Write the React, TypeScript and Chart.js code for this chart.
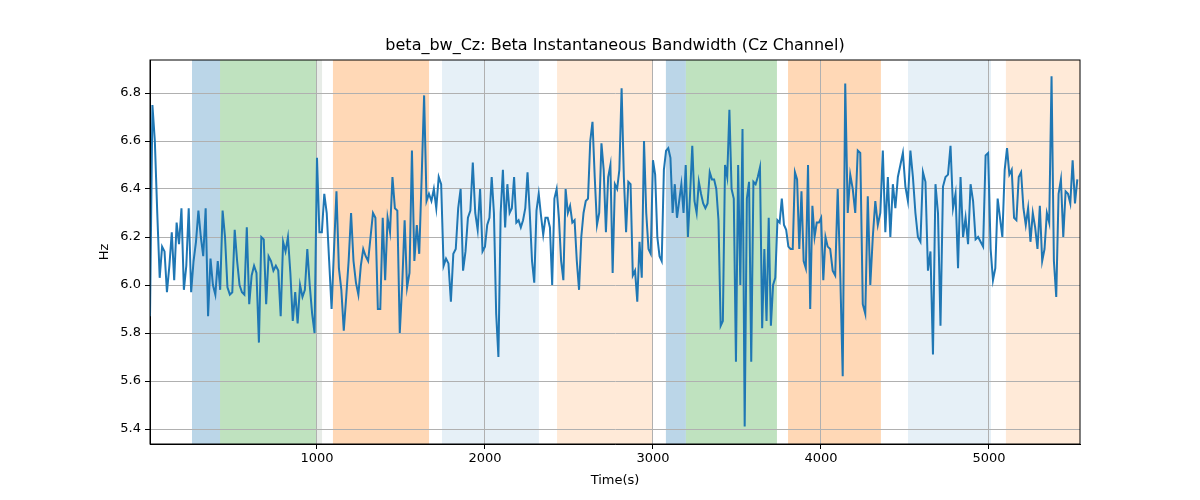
import React, { useEffect, useRef } from "react";
import { Chart, registerables } from "chart.js";
Chart.register(...registerables);

const segStarts = [6, 1000, 2000, 3000, 4040, 5010];
const segEnds = [1000, 2000, 3000, 4040, 5010, 5540];
const seg0 = [5.87, 6.75, 6.6, 6.3, 6.03, 6.16, 6.14, 5.97, 6.08, 6.22, 6.02, 6.26, 6.17, 6.32, 5.98, 6.08, 6.32, 5.97, 6.1, 6.18, 6.31, 6.2, 6.12, 6.32, 5.87, 6.11, 6.0, 5.96, 6.1, 5.98, 6.31, 6.2, 5.99, 5.96, 5.97, 6.23, 6.1, 6.0, 5.97, 5.96, 6.24, 5.92, 6.04, 6.08, 6.05, 5.76, 6.2, 6.19, 5.92, 6.12, 6.1, 6.06, 6.08, 6.06, 5.87, 6.18, 6.14, 6.2, 6.05, 5.85, 5.97, 5.84, 6.0, 5.95, 5.98, 6.15, 6.0, 5.88, 5.8];
const seg1 = [6.53, 6.22, 6.22, 6.38, 6.3, 6.1, 5.9, 6.15, 6.39, 6.07, 5.98, 5.81, 5.95, 6.1, 6.3, 6.1, 6.01, 5.96, 6.08, 6.15, 6.12, 6.1, 6.2, 6.3, 6.28, 5.9, 5.9, 6.28, 6.02, 6.28, 6.22, 6.45, 6.32, 6.31, 5.8, 6.0, 6.27, 5.99, 6.05, 6.56, 6.1, 6.25, 6.13, 6.45, 6.79, 6.35, 6.38, 6.35, 6.4, 6.32, 6.45, 6.42, 6.08, 6.11, 6.09, 5.93, 6.13, 6.15, 6.32, 6.4, 6.06, 6.14, 6.28, 6.31, 6.51, 6.3, 6.23, 6.4, 6.14];
const seg2 = [6.16, 6.25, 6.28, 6.45, 6.3, 5.88, 5.7, 6.3, 6.48, 6.24, 6.42, 6.3, 6.32, 6.45, 6.26, 6.27, 6.24, 6.27, 6.32, 6.47, 6.3, 6.1, 6.01, 6.31, 6.38, 6.29, 6.21, 6.28, 6.28, 6.24, 6.0, 6.36, 6.4, 6.28, 6.1, 6.02, 6.4, 6.3, 6.33, 6.26, 6.27, 6.1, 5.98, 6.2, 6.3, 6.35, 6.36, 6.6, 6.68, 6.45, 6.25, 6.3, 6.59, 6.48, 6.22, 6.45, 6.5, 6.05, 6.42, 6.4, 6.48, 6.82, 6.45, 6.22, 6.43, 6.42, 6.04, 6.06, 5.93, 6.18, 6.03, 6.6, 6.3, 6.15, 6.13];
const seg3 = [6.52, 6.46, 6.2, 6.12, 6.1, 6.48, 6.56, 6.57, 6.53, 6.3, 6.42, 6.28, 6.35, 6.42, 6.3, 6.5, 6.2, 6.38, 6.58, 6.35, 6.3, 6.43, 6.38, 6.34, 6.32, 6.34, 6.47, 6.44, 6.44, 6.4, 6.27, 5.83, 5.85, 6.5, 6.45, 6.73, 6.4, 6.36, 5.68, 6.5, 6.0, 6.65, 5.41, 6.36, 6.43, 5.68, 6.43, 6.42, 6.45, 6.49, 5.82, 6.15, 5.85, 6.28, 5.83, 6.0, 6.03, 6.27, 6.26, 6.36, 6.25, 6.23, 6.16, 6.15, 6.15, 6.47, 6.44, 6.15, 6.39, 6.1, 6.07, 6.5, 5.9, 6.33, 6.2, 6.26, 6.26, 6.28, 6.02, 6.2];
const seg4 = [6.16, 6.15, 6.06, 6.04, 6.4, 6.05, 5.62, 6.84, 6.3, 6.46, 6.4, 6.3, 6.56, 6.55, 5.92, 5.88, 6.37, 6.0, 6.2, 6.35, 6.25, 6.3, 6.56, 6.22, 6.45, 6.2, 6.42, 6.32, 6.45, 6.5, 6.55, 6.41, 6.35, 6.56, 6.45, 6.3, 6.2, 6.18, 6.47, 6.43, 6.06, 6.14, 5.71, 6.42, 6.3, 5.83, 6.41, 6.45, 6.46, 6.58, 6.32, 6.38, 6.07, 6.45, 6.2, 6.28, 6.17, 6.42, 6.35, 6.19, 6.2, 6.18, 6.16, 6.54, 6.55];
const seg5 = [6.15, 6.02, 6.07, 6.36, 6.28, 6.2, 6.48, 6.57, 6.46, 6.48, 6.28, 6.27, 6.45, 6.47, 6.32, 6.25, 6.32, 6.18, 6.3, 6.24, 6.15, 6.33, 6.1, 6.15, 6.3, 6.26, 6.87, 6.1, 5.95, 6.38, 6.44, 6.2, 6.39, 6.38, 6.34, 6.52, 6.34, 6.44];
const segments = [seg0, seg1, seg2, seg3, seg4, seg5];

const spanStarts = [256, 423, 1000, 1095, 1744, 2429, 3077, 3196, 3804, 4518, 5101];
const spanEnds = [423, 1000, 1030, 1667, 2321, 3000, 3196, 3738, 4357, 5012, 5560];
const spanColors = [
  "rgba(31,119,180,0.3)", "rgba(44,160,44,0.3)", "rgba(120,150,120,0.18)", "rgba(255,127,14,0.3)",
  "rgba(31,119,180,0.11)", "rgba(255,127,14,0.16)", "rgba(31,119,180,0.3)", "rgba(44,160,44,0.3)",
  "rgba(255,127,14,0.3)", "rgba(31,119,180,0.11)", "rgba(255,127,14,0.16)",
];
const xTicks = [1000, 2000, 3000, 4000, 5000];
const yTicks = [5.4, 5.6, 5.8, 6.0, 6.2, 6.4, 6.6, 6.8];

export default function App() {
  const ref = useRef<HTMLCanvasElement>(null);
  useEffect(() => {
    document.body.style.margin = "0";
    const pts: { x: number; y: number }[] = [];
    segments.forEach((seg, s) => {
      const a = segStarts[s], b = segEnds[s];
      seg.forEach((v, i) => pts.push({ x: a + ((b - a) * i) / seg.length, y: v }));
    });
    const font = { family: "DejaVu Sans", size: 13 };
    const chart = new Chart(ref.current!, {
      type: "line",
      data: { datasets: [{ data: pts, borderColor: "#1f77b4", borderWidth: 2, pointRadius: 0, tension: 0 }] },
      options: {
        animation: false, responsive: false,
        layout: { padding: { top: 60, right: 120, left: 0, bottom: 0 } },
        plugins: { legend: { display: false }, tooltip: { enabled: false }, title: { display: false } },
        scales: {
          x: {
            type: "linear", min: 6, max: 5542,
            afterBuildTicks: (sc: any) => { sc.ticks = xTicks.map((v) => ({ value: v })); },
            afterFit: (sc: any) => { sc.height = 56; },
            ticks: { color: "#000", font, maxRotation: 0, padding: 2, callback: (v: any) => String(v) },
            grid: { color: "#b0b0b0", tickColor: "#000", tickLength: 5 },
            border: { color: "#000" },
          },
          y: {
            min: 5.3375, max: 6.9375,
            afterBuildTicks: (sc: any) => { sc.ticks = yTicks.map((v) => ({ value: v })); },
            afterFit: (sc: any) => { sc.width = 150; },
            ticks: { color: "#000", font, padding: 4, callback: (v: any) => Number(v).toFixed(1) },
            grid: { color: "#b0b0b0", tickColor: "#000", tickLength: 5 },
            border: { color: "#000" },
          },
        },
      },
      plugins: [{
        id: "spans",
        beforeDraw: (c: any) => {
          const { ctx, chartArea: ca, scales } = c;
          ctx.save();
          spanStarts.forEach((s, i) => {
            const x1 = Math.max(ca.left, scales.x.getPixelForValue(s));
            const x2 = Math.min(ca.right, scales.x.getPixelForValue(spanEnds[i]));
            ctx.fillStyle = spanColors[i];
            ctx.fillRect(x1, ca.top, x2 - x1, ca.bottom - ca.top);
          });
          ctx.restore();
        },
        afterDraw: (c: any) => {
          const { ctx, chartArea: ca } = c;
          ctx.save();
          ctx.strokeStyle = "#000"; ctx.lineWidth = 1;
          ctx.strokeRect(ca.left, ca.top, ca.right - ca.left, ca.bottom - ca.top);
          ctx.fillStyle = "#000"; ctx.font = "16px 'DejaVu Sans'";
          ctx.textAlign = "center"; ctx.textBaseline = "bottom";
          ctx.fillText("beta_bw_Cz: Beta Instantaneous Bandwidth (Cz Channel)", (ca.left + ca.right) / 2, ca.top - 6);
          ctx.font = "13px 'DejaVu Sans'"; ctx.textBaseline = "middle";
          ctx.fillText("Time(s)", (ca.left + ca.right) / 2, 481);
          ctx.translate(105, (ca.top + ca.bottom) / 2);
          ctx.rotate(-Math.PI / 2);
          ctx.fillText("Hz", 0, 0);
          ctx.restore();
        },
      }],
    });
    return () => chart.destroy();
  }, []);
  return <canvas ref={ref} width={1200} height={500} style={{ display: "block" }} />;
}
